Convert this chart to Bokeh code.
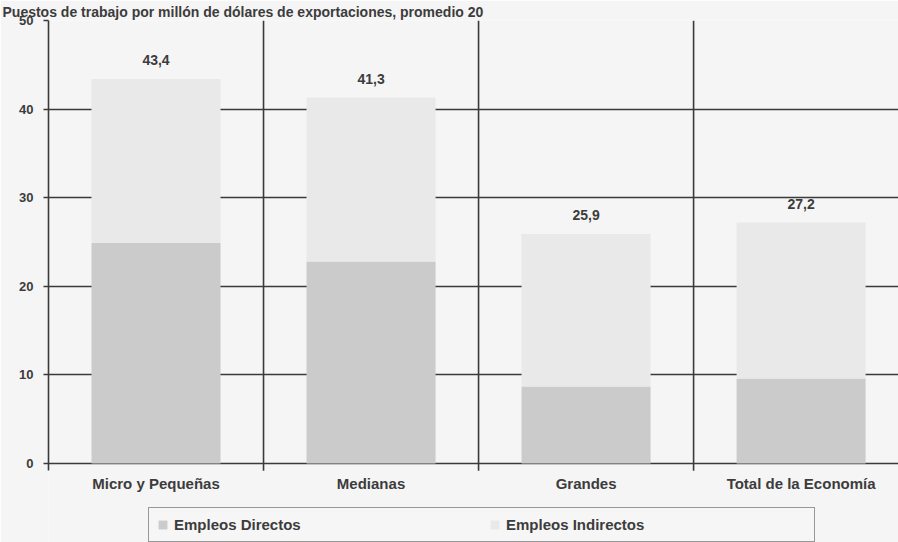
from bokeh.plotting import figure
from bokeh.models import FixedTicker, Legend, LegendItem, Range1d, ColumnDataSource
from bokeh.core.properties import value
from bokeh.embed import file_html
from bokeh.resources import INLINE

title_text = "Puestos de trabajo por millón de dólares de exportaciones, promedio 20"
categories = ["Micro y Pequeñas", "Medianas", "Grandes", "Total de la Economía"]
empleos_directos = [24.9, 22.8, 8.7, 9.6]
empleos_totales = [43.4, 41.3, 25.9, 27.2]
total_labels = ["43,4", "41,3", "25,9", "27,2"]
y_ticks = [0, 10, 20, 30, 40, 50]
series_names = ["Empleos Directos", "Empleos Indirectos"]

BG = "#f5f5f5"
DARK = "#3a3a3a"
TXT = "#3c3c3c"
C_DIR = "#cbcbcb"
C_IND = "#e9e9e9"
FONT = "Liberation Sans"

n = len(categories)
xs = [i + 0.5 for i in range(n)]
bounds_x = list(range(1, n))
src = ColumnDataSource(dict(x=xs, d=empleos_directos, t=empleos_totales, lab=total_labels, cat=categories))

y_max = y_ticks[-1]
p = figure(width=898, height=542, x_range=Range1d(0, 3.953), y_range=Range1d(-8.9, y_max),
           output_backend="svg", toolbar_location=None,
           min_border_left=48, min_border_right=0, min_border_top=19, min_border_bottom=0)
p.background_fill_color = BG
p.border_fill_color = BG
p.outline_line_color = None

p.title.text = title_text
p.title.text_font = FONT
p.title.text_font_size = "14px"
p.title.text_font_style = "bold"
p.title.text_color = TXT
p.title.standoff = 2
p.title.offset = -46

# category separators (with small tick below the baseline)
p.segment(x0=bounds_x, y0=-0.8, x1=bounds_x, y1=y_max, line_color=DARK, line_width=1.6)

r1 = p.vbar(x="x", width=0.6, bottom=0, top="d", source=src, fill_color=C_DIR, line_color=None)
r2 = p.vbar(x="x", width=0.6, bottom="d", top="t", source=src, fill_color=C_IND, line_color=None)

p.text(x="x", y="t", text="lab", source=src, y_offset=-14, text_align="center",
       text_baseline="bottom", text_font=value(FONT), text_font_size="14px",
       text_font_style="bold", text_color=TXT)

# category labels under the baseline
p.text(x="x", y=0, text="cat", source=src, y_offset=11, text_align="center",
       text_baseline="top", text_font=value(FONT), text_font_size="15px",
       text_font_style="bold", text_color=TXT)

# grids (0 line acts as the category axis line)
p.xgrid.visible = False
p.ygrid.ticker = FixedTicker(ticks=y_ticks)
p.ygrid.grid_line_color = DARK
p.ygrid.grid_line_width = 1.6

p.xaxis.visible = False

# y axis
p.yaxis.ticker = FixedTicker(ticks=y_ticks)
p.yaxis.bounds = (-0.8, y_max)
p.yaxis.axis_line_color = DARK
p.yaxis.axis_line_width = 1.6
p.yaxis.major_tick_line_color = DARK
p.yaxis.major_tick_line_width = 1.6
p.yaxis.major_tick_out = 5
p.yaxis.major_tick_in = 0
p.yaxis.minor_tick_line_color = None
p.yaxis.major_label_standoff = 10
p.yaxis.major_label_text_font = FONT
p.yaxis.major_label_text_font_size = "13px"
p.yaxis.major_label_text_font_style = "bold"
p.yaxis.major_label_text_color = TXT

legend = Legend(items=[LegendItem(label=series_names[0], renderers=[r1]),
                       LegendItem(label=series_names[1], renderers=[r2])],
                orientation="horizontal", location=(100, 0))
legend.background_fill_color = BG
legend.border_line_color = DARK
legend.border_line_width = 1.6
legend.label_text_font = FONT
legend.label_text_font_size = "15px"
legend.label_text_font_style = "bold"
legend.label_text_color = TXT
legend.glyph_width = 11
legend.glyph_height = 11
legend.label_height = 16
legend.label_standoff = 6
legend.label_width = 300
legend.spacing = 15
legend.padding = 8
legend.margin = 0
p.add_layout(legend)

open("out.html", "w").write(file_html(p, INLINE))
